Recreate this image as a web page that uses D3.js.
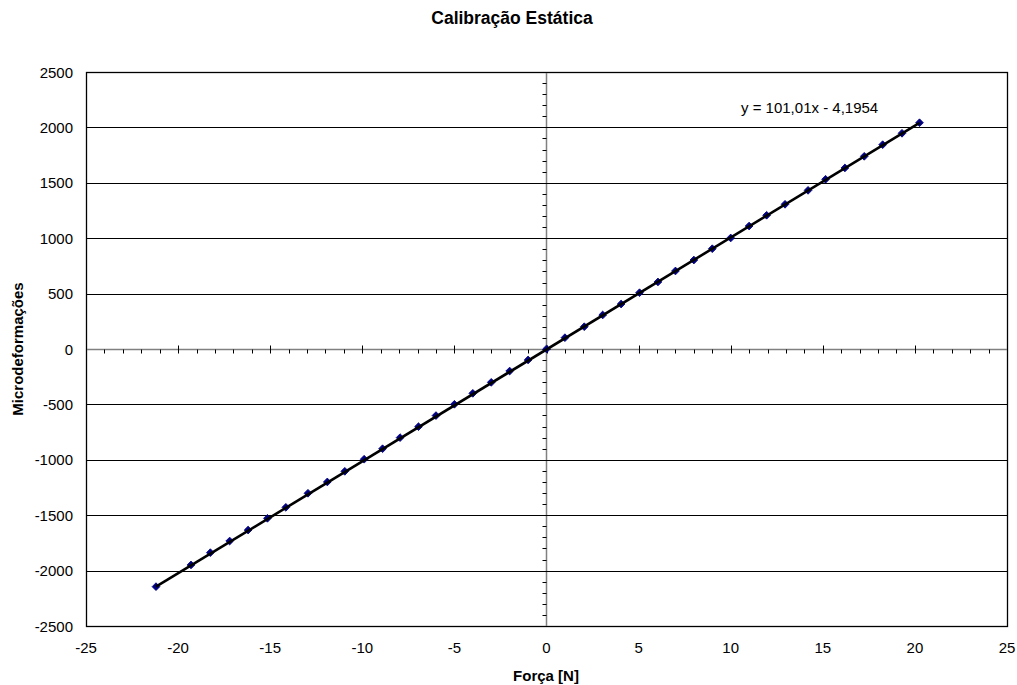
<!DOCTYPE html>
<html>
<head>
<meta charset="utf-8">
<script src="https://cdn.jsdelivr.net/npm/d3@7"></script>
<style>
  body { margin: 0; background: #fff; }
  text { font-family: "Liberation Sans", Arial, sans-serif; }
</style>
</head>
<body>
<div id="chart"></div>
<script>
// data
let forca = [-21.2, -19.3, -18.25, -17.2, -16.2, -15.15, -14.15, -12.95, -11.9, -10.95,
    -9.9, -8.9, -7.95, -6.95, -6.0, -5.0, -4.0, -3.0, -2.0, -1.0, 0,
    1.0, 2.05, 3.05, 4.05, 5.05, 6.05, 7.0, 8.0, 9.0, 10.0, 11.0, 11.95, 12.95,
    14.2, 15.15, 16.2, 17.25, 18.25, 19.3, 20.25];
let micro = [-2145, -1949, -1838, -1733, -1634, -1528, -1429, -1302, -1200, -1104,
    -995, -900, -800, -701, -601, -499, -400, -301, -199, -99, 0,
    102, 201, 307, 406, 508, 605, 704, 803, 905, 1002, 1110, 1207, 1306,
    1432, 1532, 1634, 1739, 1844, 1947, 2042];
let xTicks = [-25, -20, -15, -10, -5, 0, 5, 10, 15, 20, 25];
let yTicks = [-2500, -2000, -1500, -1000, -500, 0, 500, 1000, 1500, 2000, 2500];
let slope = 101.01, intercept = -4.1954;
let eqText = "y = 101,01x - 4,1954";

let w = 1017, h = 685;
let plot = { left: 86, right: 1007, top: 72, bottom: 626 };

let svg = d3.select("#chart").append("svg")
    .attr("width", w)
    .attr("height", h);

let x = d3.scaleLinear().domain([-25, 25]).range([plot.left, plot.right]);
let y = d3.scaleLinear().domain([-2500, 2500]).range([plot.bottom, plot.top]);

// title
svg.append("text")
    .attr("x", 512).attr("y", 24)
    .attr("text-anchor", "middle")
    .attr("font-size", 17.5).attr("font-weight", "bold")
    .text("Calibração Estática");

// horizontal gridlines
svg.append("g").selectAll("line")
    .data(yTicks)
    .enter().append("line")
    .attr("x1", plot.left).attr("x2", plot.right)
    .attr("y1", d => Math.round(y(d)) + 0.5).attr("y2", d => Math.round(y(d)) + 0.5)
    .attr("stroke", "#000").attr("stroke-width", 1);

// plot border
svg.append("rect")
    .attr("x", plot.left + 0.5).attr("y", plot.top + 0.5)
    .attr("width", plot.right - plot.left).attr("height", plot.bottom - plot.top)
    .attr("fill", "none").attr("stroke", "#000").attr("stroke-width", 1.3);

// axes crossing at zero
let x0 = Math.round(x(0)) - 0.5;
let y0 = Math.round(y(0)) + 0.5;
svg.append("line")
    .attr("x1", plot.left).attr("x2", plot.right)
    .attr("y1", y0).attr("y2", y0)
    .attr("stroke", "#808080").attr("stroke-width", 1.5);
svg.append("line")
    .attr("x1", x0).attr("x2", x0)
    .attr("y1", plot.top).attr("y2", plot.bottom)
    .attr("stroke", "#808080").attr("stroke-width", 1.5);

// x ticks (minor every 1, major every 5)
let xMinor = d3.range(-25, 26, 1);
svg.append("g").selectAll("line")
    .data(xMinor)
    .enter().append("line")
    .attr("x1", d => Math.round(x(d)) + 0.5).attr("x2", d => Math.round(x(d)) + 0.5)
    .attr("y1", d => d % 5 === 0 ? y0 - 4 : y0)
    .attr("y2", y0 + 4)
    .attr("stroke", "#000").attr("stroke-width", 1);

// y ticks (minor every 100, major every 500)
let yMinor = d3.range(-2500, 2501, 100);
svg.append("g").selectAll("line")
    .data(yMinor)
    .enter().append("line")
    .attr("y1", d => Math.round(y(d)) + 0.5).attr("y2", d => Math.round(y(d)) + 0.5)
    .attr("x1", x0 - 4)
    .attr("x2", d => d % 500 === 0 ? x0 + 4 : x0)
    .attr("stroke", "#000").attr("stroke-width", 1);

// tick labels
svg.append("g").selectAll("text")
    .data(xTicks)
    .enter().append("text")
    .attr("x", d => x(d)).attr("y", plot.bottom + 27)
    .attr("text-anchor", "middle")
    .attr("font-size", 15)
    .text(d => d);

svg.append("g").selectAll("text")
    .data(yTicks)
    .enter().append("text")
    .attr("x", plot.left - 13).attr("y", d => y(d) + 5.5)
    .attr("text-anchor", "end")
    .attr("font-size", 15)
    .text(d => d);

// axis titles
svg.append("text")
    .attr("x", 546).attr("y", 681)
    .attr("text-anchor", "middle")
    .attr("font-size", 15).attr("font-weight", "bold")
    .text("Força [N]");

svg.append("text")
    .attr("transform", "translate(23," + y(0) + ") rotate(-90)")
    .attr("text-anchor", "middle")
    .attr("font-size", 15).attr("font-weight", "bold")
    .text("Microdeformações");

// markers
let diamond = d3.symbol().type(d3.symbolSquare).size(30);
svg.append("g").selectAll("path")
    .data(forca)
    .enter().append("path")
    .attr("d", diamond)
    .attr("transform", (d, i) => "translate(" + x(d) + "," + y(micro[i]) + ") rotate(45)")
    .attr("fill", "#000080")
    .attr("stroke", "#000080").attr("stroke-width", 0.8);

// linear trendline
let xmin = d3.min(forca), xmax = d3.max(forca);
svg.append("line")
    .attr("x1", x(xmin)).attr("y1", y(slope * xmin + intercept))
    .attr("x2", x(xmax)).attr("y2", y(slope * xmax + intercept))
    .attr("stroke", "#000").attr("stroke-width", 2.6);

// equation label
svg.append("text")
    .attr("x", 741).attr("y", 113)
    .attr("font-size", 15)
    .text(eqText);
</script>
</body>
</html>
